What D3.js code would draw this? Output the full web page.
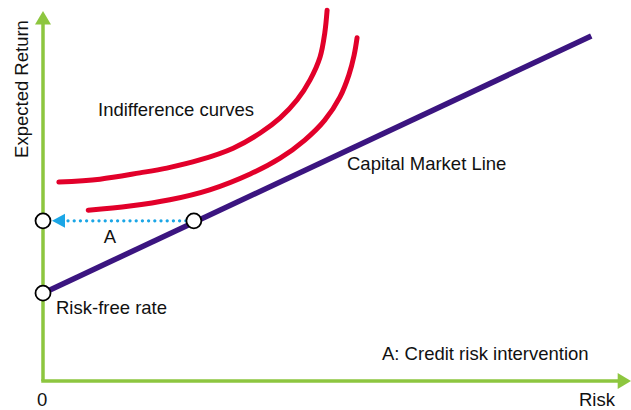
<!DOCTYPE html>
<html>
<head>
<meta charset="utf-8">
<script src="https://cdn.jsdelivr.net/npm/d3@7/dist/d3.min.js"></script>
<style>
  html, body { margin: 0; padding: 0; background: #fff; }
  svg { display: block; }
  text { font-family: "Liberation Sans", Arial, Helvetica, sans-serif; font-size: 18.5px; fill: #111; }
</style>
</head>
<body>
<svg id="chart" width="631" height="410"></svg>
<script>
// ---- Data (conceptual units: risk 0..100, expected return 0..100) ----
const riskFreeRate = 23.8;
const cmlPoints = [[0, 23.8], [93.4, 93.5]];
const tangentPoint = [25.7, 43.4];
const interventionTarget = [0, 43.4];
const curveUpper = [
  [2.7, 53.9], [9.7, 54.7], [16.5, 56.4], [21.1, 57.7], [26.7, 59.9], [32.4, 63.1],
  [37.0, 67.2], [40.4, 71.3], [43.3, 76.2], [45.5, 81.6], [47.2, 87.8], [48.0, 94.3], [48.4, 100.5]
];
const curveLower = [
  [7.7, 46.3], [14.8, 47.4], [21.6, 49.1], [28.4, 51.8], [35.3, 56.1], [40.4, 60.4],
  [44.6, 65.3], [48.0, 70.7], [50.6, 77.0], [52.1, 82.9], [53.0, 88.3], [53.5, 93.0]
];
const labels = {
  yAxis: "Expected Return",
  xAxis: "Risk",
  origin: "0",
  curves: "Indifference curves",
  cml: "Capital Market Line",
  arrow: "A",
  rf: "Risk-free rate",
  note: "A: Credit risk intervention"
};

// ---- Scales ----
const x = d3.scaleLinear().domain([0, 100]).range([43, 630]);
const y = d3.scaleLinear().domain([0, 100]).range([381, 12]);

const svg = d3.select("#chart");
const green = "#8DC63F", red = "#E2002A", purple = "#3B1580", blue = "#1BA6E6";

// Axes (custom arrows)
const axisG = svg.append("g");
axisG.append("line")
  .attr("x1", x(0)).attr("y1", y(0)).attr("x2", x(0)).attr("y2", y(96.8))
  .attr("stroke", green).attr("stroke-width", 3.5);
axisG.append("line")
  .attr("x1", x(0) - 1.75).attr("y1", y(0)).attr("x2", x(98)).attr("y2", y(0))
  .attr("stroke", green).attr("stroke-width", 3.5);
axisG.append("path")
  .attr("d", `M${x(0)},${y(100) - 1} L${x(0) - 8},${y(96.6)} L${x(0) + 8},${y(96.6)} Z`)
  .attr("fill", green);
axisG.append("path")
  .attr("d", `M${x(100) + 1},${y(0)} L${x(97.9)},${y(0) - 8} L${x(97.9)},${y(0) + 8} Z`)
  .attr("fill", green);

const line = d3.line().x(d => x(d[0])).y(d => y(d[1])).curve(d3.curveCatmullRom.alpha(0.5));

// Indifference curves
svg.selectAll("path.ic").data([curveUpper, curveLower]).join("path")
  .attr("class", "ic")
  .attr("d", line)
  .attr("fill", "none").attr("stroke", red).attr("stroke-width", 5).attr("stroke-linecap", "round");

// CML
svg.append("path")
  .attr("d", d3.line().x(d => x(d[0])).y(d => y(d[1]))(cmlPoints))
  .attr("fill", "none").attr("stroke", purple).attr("stroke-width", 5.5);

// Dotted arrow A
svg.append("line")
  .attr("x1", x(tangentPoint[0]) - 8).attr("y1", y(tangentPoint[1]))
  .attr("x2", x(interventionTarget[0]) + 20).attr("y2", y(interventionTarget[1]))
  .attr("stroke", blue).attr("stroke-width", 3.2)
  .attr("stroke-dasharray", "0.1,6.1").attr("stroke-linecap", "round");
svg.append("path")
  .attr("d", `M${x(0) + 9},${y(interventionTarget[1])} L${x(0) + 22},${y(interventionTarget[1]) - 7} L${x(0) + 22},${y(interventionTarget[1]) + 7} Z`)
  .attr("fill", blue);

// Circles
svg.selectAll("circle").data([[0, riskFreeRate], interventionTarget, tangentPoint]).join("circle")
  .attr("cx", d => x(d[0])).attr("cy", d => y(d[1])).attr("r", 7.5)
  .attr("fill", "#fff").attr("stroke", "#000").attr("stroke-width", 1.8);

// Labels
svg.append("text").attr("transform", "translate(28,89) rotate(-90)").attr("text-anchor", "middle").text(labels.yAxis);
svg.append("text").attr("x", 37).attr("y", 406).text(labels.origin);
svg.append("text").attr("x", 579).attr("y", 406).text(labels.xAxis);
svg.append("text").attr("x", 98).attr("y", 116).text(labels.curves);
svg.append("text").attr("x", 347).attr("y", 170).text(labels.cml);
svg.append("text").attr("x", 110).attr("y", 243).attr("text-anchor", "middle").text(labels.arrow);
svg.append("text").attr("x", 56).attr("y", 314).text(labels.rf);
svg.append("text").attr("x", 382).attr("y", 360).text(labels.note);
</script>
</body>
</html>
